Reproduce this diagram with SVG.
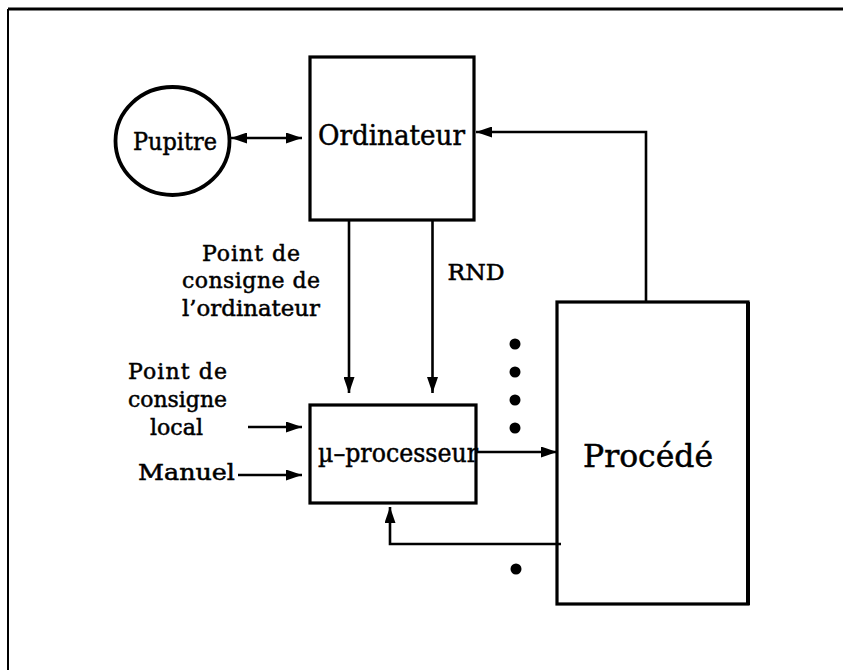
<svg xmlns="http://www.w3.org/2000/svg" width="843" height="670" viewBox="0 0 843 670">
<style>
.box{fill:none;stroke:#000;stroke-width:3.2}
.ln{fill:none;stroke:#000;stroke-width:2.6}
.t{font-family:"DejaVu Serif","Liberation Serif",serif;fill:#000;stroke:#000;stroke-width:0.5}
.lab{font-size:22px;text-anchor:middle}
.dot{fill:#000}
</style>
<defs>
<marker id="ah" viewBox="0 0 16 11" refX="16" refY="5.5" markerWidth="16" markerHeight="11" markerUnits="userSpaceOnUse" orient="auto-start-reverse">
<path d="M0,0 L16,5.5 L0,11 z" fill="#000"/>
</marker>
</defs>
<rect width="843" height="670" fill="#fff"/>
<g id="frame">
<line x1="8" y1="9" x2="843" y2="9" stroke="#000" stroke-width="3"/>
<line x1="8" y1="9" x2="8" y2="670" stroke="#000" stroke-width="2"/>
</g>
<g id="pupitre">
<ellipse cx="172.5" cy="141" rx="57" ry="54" fill="#fff" stroke="#000" stroke-width="3.8"/>
<text class="t" x="175" y="150" font-size="24" text-anchor="middle" textLength="84" lengthAdjust="spacingAndGlyphs">Pupitre</text>
</g>
<g id="ordinateur">
<rect class="box" x="310" y="57" width="164" height="163"/>
<text class="t" x="391.5" y="145" font-size="28" text-anchor="middle" textLength="147" lengthAdjust="spacingAndGlyphs">Ordinateur</text>
</g>
<g id="microprocesseur">
<text class="t" x="318" y="462" font-size="26" textLength="160" lengthAdjust="spacingAndGlyphs">µ–processeur</text>
<rect class="box" x="310" y="405" width="166" height="98"/>
</g>
<g id="procede">
<rect class="box" x="557" y="302" width="191" height="302"/>
<line x1="748" y1="302" x2="748" y2="605" stroke="#000" stroke-width="4"/>
<text class="t" x="648" y="467" font-size="32" text-anchor="middle" textLength="130" lengthAdjust="spacingAndGlyphs">Procédé</text>
</g>
<g id="labels">
<text class="t lab" x="251" y="261" textLength="98" lengthAdjust="spacing">Point de</text>
<text class="t lab" x="251" y="288" textLength="138" lengthAdjust="spacing">consigne de</text>
<text class="t lab" x="251" y="316" textLength="138" lengthAdjust="spacingAndGlyphs">l’ordinateur</text>
<text class="t lab" x="476" y="280" textLength="57" lengthAdjust="spacingAndGlyphs">RND</text>
<text class="t lab" x="177.5" y="379" textLength="99" lengthAdjust="spacing">Point de</text>
<text class="t lab" x="177.5" y="407" textLength="99" lengthAdjust="spacingAndGlyphs">consigne</text>
<text class="t lab" x="176.5" y="435" textLength="53" lengthAdjust="spacingAndGlyphs">local</text>
<text class="t lab" x="186.5" y="480" textLength="97" lengthAdjust="spacingAndGlyphs">Manuel</text>
</g>
<g id="dots">
<circle class="dot" cx="515" cy="344" r="5.5"/>
<circle class="dot" cx="515" cy="372" r="5.5"/>
<circle class="dot" cx="515" cy="400" r="5.5"/>
<circle class="dot" cx="515" cy="428" r="5.5"/>
<circle class="dot" cx="516" cy="569" r="5.5"/>
</g>
<g id="connectors">
<line class="ln" x1="231" y1="138" x2="302" y2="138" marker-start="url(#ah)" marker-end="url(#ah)"/>
<polyline class="ln" points="646,302 646,132 476,132" marker-end="url(#ah)"/>
<line class="ln" x1="349" y1="220" x2="349" y2="393" marker-end="url(#ah)"/>
<line class="ln" x1="432.5" y1="220" x2="432.5" y2="393" marker-end="url(#ah)"/>
<line class="ln" x1="248" y1="427" x2="302" y2="427" marker-end="url(#ah)"/>
<line class="ln" x1="238" y1="475" x2="302" y2="475" marker-end="url(#ah)"/>
<line class="ln" x1="476" y1="452" x2="557" y2="452" marker-end="url(#ah)"/>
<polyline class="ln" points="561,544 390,544 390,507" marker-end="url(#ah)"/>
</g>
</svg>
